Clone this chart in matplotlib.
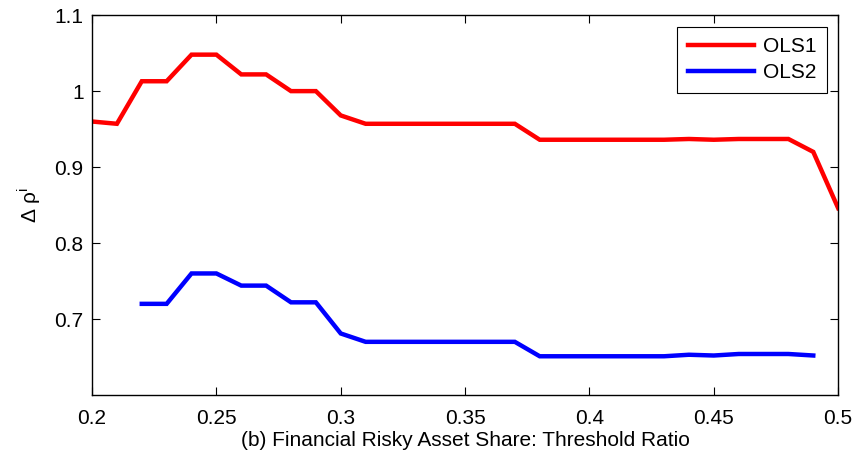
import numpy as np
import matplotlib
matplotlib.use("Agg")
import matplotlib.pyplot as plt

plt.rcParams["font.family"] = ["Liberation Sans", "DejaVu Sans"]

# threshold ratio grid
x1 = [0.20, 0.21, 0.22, 0.23, 0.24, 0.25, 0.26, 0.27, 0.28, 0.29, 0.30,
      0.31, 0.32, 0.33, 0.34, 0.35, 0.36, 0.37, 0.38, 0.39, 0.40, 0.41,
      0.42, 0.43, 0.44, 0.45, 0.46, 0.47, 0.48, 0.49, 0.50]
ols1 = [0.960, 0.957, 1.013, 1.013, 1.048, 1.048, 1.022, 1.022, 1.000, 1.000, 0.968,
        0.957, 0.957, 0.957, 0.957, 0.957, 0.957, 0.957, 0.936, 0.936, 0.936, 0.936,
        0.936, 0.936, 0.937, 0.936, 0.937, 0.937, 0.937, 0.920, 0.846]

x2 = [0.22, 0.23, 0.24, 0.25, 0.26, 0.27, 0.28, 0.29, 0.30,
      0.31, 0.32, 0.33, 0.34, 0.35, 0.36, 0.37, 0.38, 0.39, 0.40, 0.41,
      0.42, 0.43, 0.44, 0.45, 0.46, 0.47, 0.48, 0.49]
ols2 = [0.720, 0.720, 0.760, 0.760, 0.744, 0.744, 0.722, 0.722, 0.681,
        0.670, 0.670, 0.670, 0.670, 0.670, 0.670, 0.670, 0.651, 0.651, 0.651, 0.651,
        0.651, 0.651, 0.653, 0.652, 0.654, 0.654, 0.654, 0.652]

fig = plt.figure(figsize=(8.57, 4.59), dpi=100)
ax = fig.add_axes([0.1074, 0.1394, 0.8706, 0.8276])

ax.plot(x1, ols1, color="red", lw=3.2, label="OLS1", solid_joinstyle="miter")
ax.plot(x2, ols2, color="blue", lw=3.2, label="OLS2", solid_joinstyle="miter")

ax.set_xlim(0.2, 0.5)
ax.set_ylim(0.6, 1.1)
ax.set_xticks([0.2, 0.25, 0.3, 0.35, 0.4, 0.45, 0.5])
ax.set_xticklabels(["0.2", "0.25", "0.3", "0.35", "0.4", "0.45", "0.5"])
ax.set_yticks([0.7, 0.8, 0.9, 1.0, 1.1])
ax.set_yticklabels(["0.7", "0.8", "0.9", "1", "1.1"])
ax.tick_params(direction="in", top=True, right=True, labelsize=15, length=6, width=0.8)
ax.tick_params(axis="x", pad=10)
ax.tick_params(axis="y", pad=6)
for s in ax.spines.values():
    s.set_linewidth(1.0)

ax.set_xlabel("(b) Financial Risky Asset Share: Threshold Ratio", fontsize=15, labelpad=2)
ax.set_ylabel("Δ ρ$^{\\mathregular{i}}$", fontsize=15, labelpad=8)

leg = ax.legend(loc="upper right", fontsize=15, fancybox=False, edgecolor="black",
                framealpha=1, handlelength=3.2, borderaxespad=0.55, labelspacing=0.35,
                handletextpad=0.4, borderpad=0.5)
leg.get_frame().set_linewidth(0.8)

fig.savefig("out.png", dpi=100)
